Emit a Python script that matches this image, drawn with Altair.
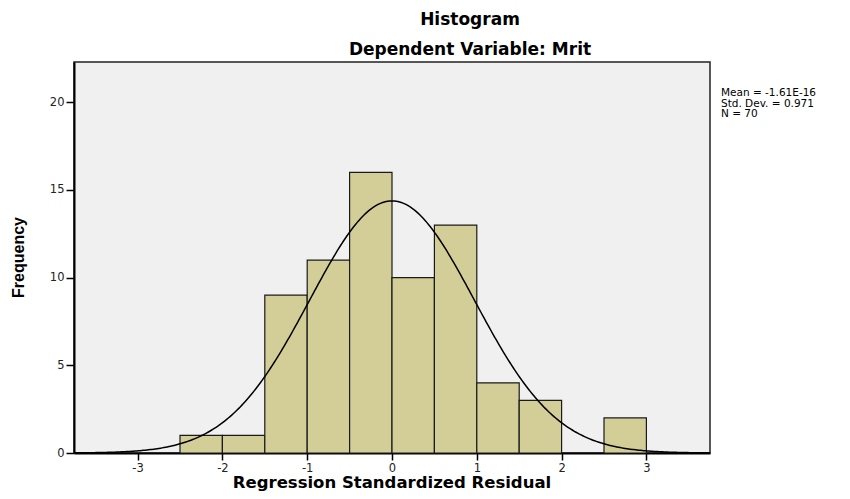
import altair as alt
import pandas as pd

# Histogram bins (width 0.5) and counts
bin_start = [-2.5, -2.0, -1.5, -1.0, -0.5, 0.0, 0.5, 1.0, 1.5, 2.0, 2.5]
counts = [1, 1, 9, 11, 16, 10, 13, 4, 3, 0, 2]
bin_width = 0.5

# Summary statistics shown in the chart
mean_label = "-1.61E-16"
mean_val = -1.61e-16
sd_val = 0.971
n_val = 70

x_ticks = [-3, -2, -1, 0, 1, 2, 3]
y_ticks = [0, 5, 10, 15, 20]
x_domain = [-3.75, 3.75]
y_domain = [0, 22.3]

FONT = "DejaVu Sans"
FONT2 = "Liberation Sans"

bars_df = pd.DataFrame({
    "start": bin_start,
    "end": [b + bin_width for b in bin_start],
    "count": counts,
})
bars_df = bars_df[bars_df["count"] > 0]

W, H = 636, 391

xscale = alt.Scale(domain=x_domain, nice=False, zero=False)
yscale = alt.Scale(domain=y_domain, nice=False)

xaxis = alt.Axis(values=x_ticks, title=None, labelExpr="toString(datum.value)",
                 grid=False, domainColor="black", domainWidth=2,
                 tickColor="black", tickSize=7, tickWidth=1.5,
                 labelFont=FONT, labelFontSize=11.5, labelColor="#222",
                 labelPadding=2)
yaxis = alt.Axis(values=y_ticks, title=None, labelExpr="toString(datum.value)",
                 grid=False, domainColor="black", domainWidth=2,
                 tickColor="black", tickSize=8, tickWidth=1.5,
                 labelFont=FONT, labelFontSize=11.5, labelColor="#222",
                 labelPadding=2)

bars = alt.Chart(bars_df).mark_rect(
    fill="#d3ce98", stroke="#1a1a1a", strokeWidth=1.2
).encode(
    x=alt.X("start:Q", scale=xscale, axis=xaxis),
    x2="end:Q",
    y=alt.Y("count:Q", scale=yscale, axis=yaxis),
    y2=alt.datum(0),
)

curve = alt.Chart(alt.sequence(start=x_domain[0], stop=x_domain[1] + 0.001,
                               step=0.02, as_="x")).transform_calculate(
    y=f"{n_val * bin_width} * densityNormal(datum.x, {mean_val}, {sd_val})"
).mark_line(color="black", strokeWidth=1.5, clip=True).encode(
    x=alt.X("x:Q", scale=xscale),
    y=alt.Y("y:Q", scale=yscale),
)

one = pd.DataFrame({"a": [0]})

stats_text = alt.Chart(one).mark_text(
    align="left", baseline="alphabetic", font=FONT, fontSize=10.5,
    lineHeight=10.5, color="black"
).encode(
    x=alt.value(647), y=alt.value(34),
    text=alt.value([f"Mean = {mean_label}", f"Std. Dev. = {sd_val}", f"N = {n_val}"]),
)

title1 = alt.Chart(one).mark_text(
    align="center", baseline="alphabetic", font=FONT, fontSize=17,
    fontWeight="bold", color="black"
).encode(x=alt.value(396), y=alt.value(-37), text=alt.value("Histogram"))

title2 = alt.Chart(one).mark_text(
    align="center", baseline="alphabetic", font=FONT, fontSize=17,
    fontWeight="bold", color="black"
).encode(x=alt.value(396), y=alt.value(-7),
         text=alt.value("Dependent Variable: Mrit"))

xtitle = alt.Chart(one).mark_text(
    align="center", baseline="alphabetic", font=FONT, fontSize=16.5,
    fontWeight="bold", color="black"
).encode(x=alt.value(W / 2), y=alt.value(H + 35),
         text=alt.value("Regression Standardized Residual"))

ytitle = alt.Chart(one).mark_text(
    align="center", baseline="alphabetic", font=FONT2, fontSize=16,
    fontWeight="bold", color="black", angle=270
).encode(x=alt.value(-50), y=alt.value(H / 2),
         text=alt.value("Frequency"))

chart = alt.layer(bars, curve, stats_text, title1, title2, xtitle, ytitle).properties(
    width=W, height=H,
    autosize=alt.AutoSizeParams(type="none"),
    padding={"left": 66, "top": 54, "right": 130, "bottom": 38},
    background="white",
).configure_view(
    fill="#f0f0f0", stroke="#222", strokeWidth=1.5
)

chart.save("out.html", embed_options={"renderer": "svg", "actions": False})
